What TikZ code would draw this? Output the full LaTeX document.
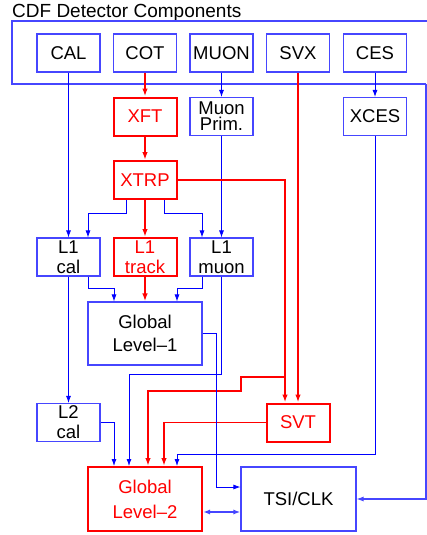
\documentclass[tikz,border=0pt]{standalone}
\usepackage{fontspec}
\setmainfont{Liberation Sans}
\usetikzlibrary{arrows.meta,calc}
\definecolor{boxblue}{RGB}{70,70,255}
\definecolor{lnblue}{RGB}{0,0,255}
\definecolor{rd}{RGB}{255,0,0}
\begin{document}
\begin{tikzpicture}[x=1pt,y=-1pt,
  every node/.style={font=\fontsize{18.5}{20}\selectfont, inner sep=0pt, align=center},
  bbox/.style={draw=boxblue, line width=1.1pt, minimum width=63pt, minimum height=38pt},
  rbox/.style={draw=rd, line width=2pt, text=rd, minimum width=63pt, minimum height=38pt},
  bline/.style={draw=lnblue, line width=0.8pt, -{Latex[length=7pt,width=5pt]}},
  rline/.style={draw=rd, line width=1.6pt, -{Latex[length=8pt,width=5.5pt]}},
  fline/.style={draw=boxblue, line width=1.1pt},
]
\useasboundingbox (0,0) rectangle (427,535);
% title
\node[anchor=base west, font=\fontsize{19}{21}\selectfont] (title) at (12,17.3) {CDF Detector Components};
% frame
\coordinate (frtr) at (440,21);
\coordinate (frtl) at (12,21);
\coordinate (frbl) at (12,84);
\coordinate (frbr) at (426,84);
% top row
\node[bbox] (cal) at (68.5,53) {CAL};
\node[bbox] (cot) at (145,53) {COT};
\node[bbox] (muon) at (221.5,53) {MUON};
\node[bbox] (svx) at (298,53) {SVX};
\node[bbox] (ces) at (375,53) {CES};
% second row
\node[rbox] (xft) at (145,116.5) {XFT};
\node[bbox] (mprim) at (221.5,116.5) {Muon\\[-4pt]Prim.};
\node[bbox] (xces) at (375,116.5) {XCES};
% XTRP
\node[rbox] (xtrp) at (145,180) {XTRP};
% L1 row
\node[bbox] (l1cal) at (68.5,257) {L1\\cal};
\node[rbox] (l1trk) at (145,257) {L1\\track};
\node[bbox] (l1mu) at (221.5,257) {L1\\muon};
% Global L1
\node[bbox, minimum width=114pt, minimum height=63pt] (gl1) at (145,333.5) {Global\\[3pt]Level--1};
% L2 cal, SVT
\node[bbox] (l2cal) at (68.5,422.5) {L2\\cal};
\node[rbox] (svt) at (298,422.5) {SVT};
% Global L2, TSI
\node[rbox, minimum width=114pt, minimum height=64pt] (gl2) at (145,499) {Global\\[5pt]Level--2};
\node[bbox, minimum width=115pt, minimum height=64pt] (tsi) at (298.5,499) {TSI/CLK};

% frame drawing
\draw[fline] (frtr) -- (frtl) -- (frbl) -- (frbr);
\draw[fline, -{Latex[length=7pt,width=5pt]}] (frbr) |- (tsi.east);

% straight connectors
\draw[bline] (cal.south) -- (l1cal.north);
\draw[rline] (cot.south) -- (xft.north);
\draw[bline] (muon.south) -- (mprim.north);
\draw[rline] (svx.south) -- (svt.north);
\draw[bline] (ces.south) -- (xces.north);
\draw[rline] (xft.south) -- (xtrp.north);
\draw[bline] (mprim.south) -- (l1mu.north);

% XTRP fan-out
\draw[bline] ([xshift=-19pt]xtrp.south) -- ++(0,13) -| ([xshift=19.5pt]l1cal.north);
\draw[rline] (xtrp.south) -- (l1trk.north);
\draw[bline] ([xshift=19pt]xtrp.south) -- ++(0,13) -| ([xshift=-19.5pt]l1mu.north);
\draw[rline] (xtrp.east) -| ([xshift=-13pt]svt.north);
\coordinate (br) at (285,377);
\draw[rline] (br) -- (241,377) -- (241,391) -| ([xshift=3pt]gl2.north);

% L1 to Global L1
\draw[bline] ([xshift=19.5pt]l1cal.south) -- ++(0,12) -| ([xshift=-31pt]gl1.north);
\draw[rline] (l1trk.south) -- (gl1.north);
\draw[bline] ([xshift=-19.5pt]l1mu.south) -- ++(0,12) -| ([xshift=32pt]gl1.north);

% to L2
\draw[bline] (l1cal.south) -- (l2cal.north);
\draw[bline] (l1mu.south) -- ++(0,98) -| ([xshift=-16pt]gl2.north);
\draw[bline] (l2cal.east) -| ([xshift=-31pt]gl2.north);
\draw[rline] (svt.west) -| ([xshift=19pt]gl2.north);
\draw[bline] (xces.south) -- ++(0,318) -| ([xshift=32pt]gl2.north);

% Global L1 to TSI
\draw[bline] (gl1.east) -- ++(14,0) |- ([yshift=12pt]tsi.west);
% GL2 <-> TSI
\draw[draw=boxblue, line width=1.8pt, {Latex[length=7pt,width=5pt]}-{Latex[length=7pt,width=5pt]}] ([yshift=-13pt]gl2.east) -- ([yshift=-13pt]gl2.east -| tsi.west);
\end{tikzpicture}
\end{document}
